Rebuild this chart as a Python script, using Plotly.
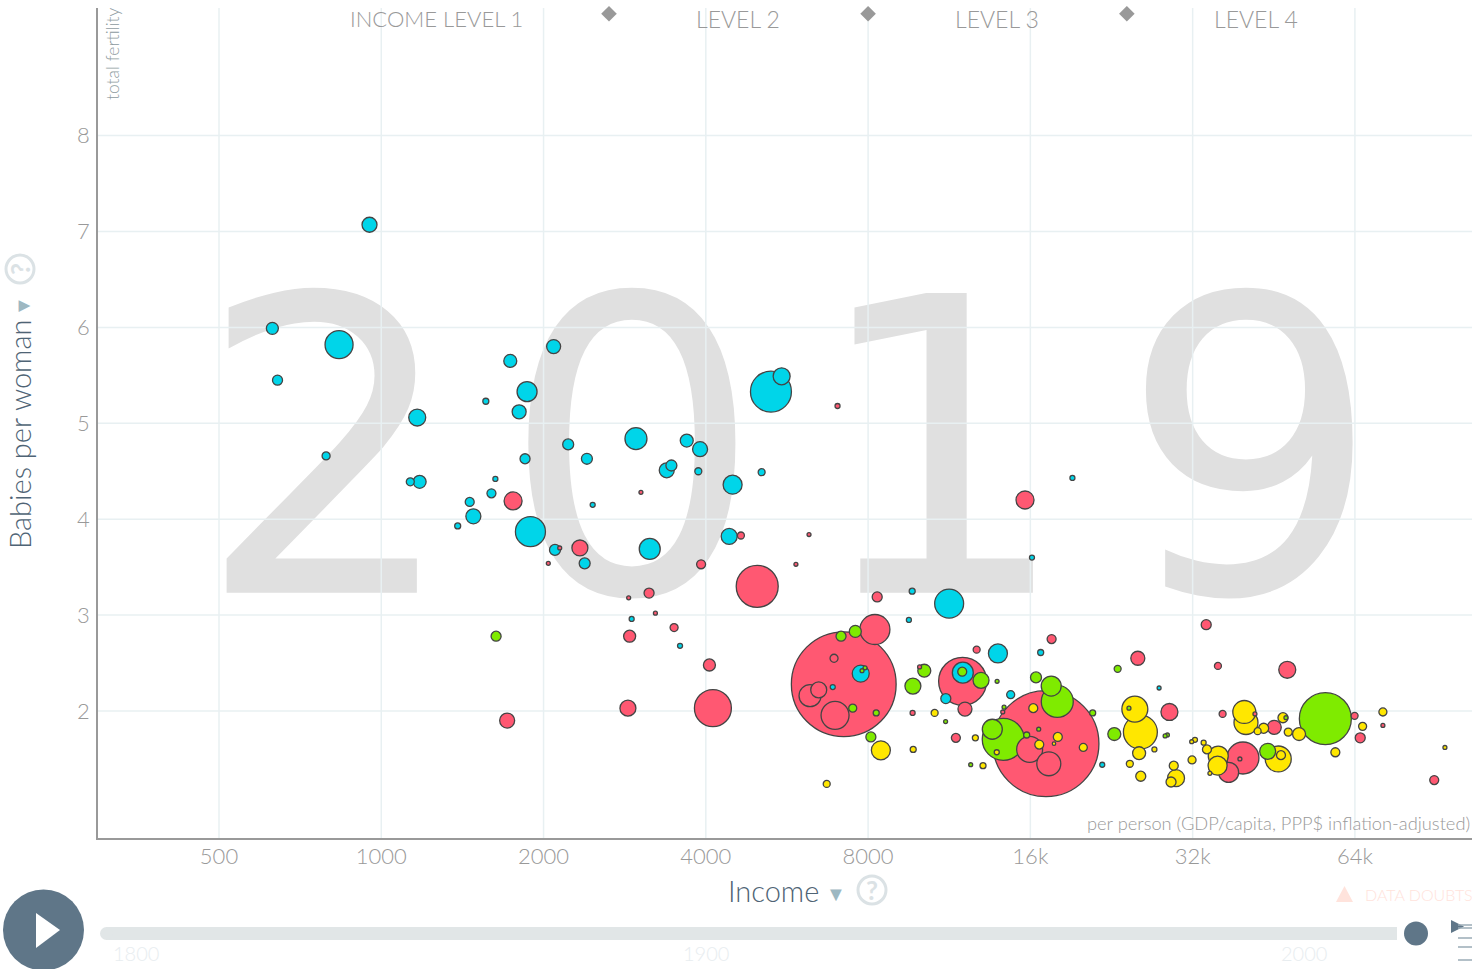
import pandas as pd
import plotly.graph_objects as go

# gapminder snapshot, income / fertility / population (millions)
africa_income = [2088, 1735, 1864, 1563, 1802, 1166, 5283, 5530, 2968, 2222, 2407, 1848, 3687, 3903, 3385, 3453, 3874, 5077, 4485, 2467, 1132, 1178, 1628, 1601, 1459, 1482, 1386, 1891, 2100, 2384, 3148, 4420, 2914, 3583, 951, 628, 835, 642, 790, 19150, 16110, 11310, 9658, 9523, 13930, 16720, 7752, 6879, 11990, 11150, 14710, 21750, 27730]
africa_fertility = [5.80, 5.65, 5.33, 5.23, 5.12, 5.06, 5.33, 5.49, 4.84, 4.78, 4.63, 4.63, 4.82, 4.73, 4.51, 4.56, 4.50, 4.49, 4.36, 4.15, 4.39, 4.39, 4.42, 4.27, 4.18, 4.03, 3.93, 3.87, 3.68, 3.54, 3.69, 3.82, 2.96, 2.68, 7.07, 5.99, 5.82, 5.45, 4.66, 4.43, 3.60, 3.12, 3.25, 2.95, 2.60, 2.61, 2.39, 2.25, 2.40, 2.13, 2.17, 1.44, 2.24]
africa_pop = [25, 21.5, 51, 4.6, 25, 36.8, 214, 36.8, 61.7, 15.4, 15.4, 12.8, 21.5, 28.7, 28.7, 15.4, 6.2, 6.2, 46, 3.2, 8.2, 21.5, 3.2, 10.3, 10.3, 28.7, 4.6, 115, 15.4, 15.4, 56, 32.6, 3.2, 3.2, 28.7, 18.4, 100, 12.8, 8.2, 3.2, 3.2, 107, 4.6, 3.2, 46, 4.6, 36.8, 3.2, 56, 12.8, 8.2, 3.2, 2]

asia_income = [1756, 2336, 2143, 4647, 3920, 4982, 3139, 2877, 6216, 5878, 2041, 3032, 3225, 3493, 2889, 7021, 15640, 1712, 2868, 4123, 4062, 7210, 8236, 8317, 6917, 6243, 6479, 6947, 11980, 12100, 12720, 17520, 17100, 15950, 17310, 11640, 9675, 9969, 14220, 33910, 25320, 35650, 47940, 28980, 36370, 41760, 45350, 63920, 65470, 72130, 39670, 37320, 89810, 39160]
asia_fertility = [4.19, 3.70, 3.70, 3.83, 3.53, 3.30, 3.23, 3.18, 3.84, 3.53, 3.54, 4.28, 3.02, 2.87, 2.78, 5.18, 4.20, 1.90, 2.03, 2.03, 2.48, 2.28, 2.85, 3.19, 2.55, 2.16, 2.22, 1.955, 2.31, 2.02, 2.64, 2.75, 1.66, 1.60, 1.45, 1.72, 1.98, 2.46, 1.99, 2.90, 2.55, 2.47, 2.43, 1.99, 1.97, 1.97, 1.83, 1.95, 1.72, 1.85, 1.51, 1.36, 1.28, 1.50]
asia_pop = [41.3, 32.6, 2, 6.2, 10.3, 225, 12.8, 2, 2, 2, 2, 2, 2, 8.2, 18.4, 3.2, 41.3, 28.7, 32.6, 174.5, 18.4, 1400, 115, 12.8, 8.2, 61.7, 32.6, 100, 294, 25, 6.2, 10.3, 1433, 86, 73.4, 10.3, 3.2, 2, 2, 12.8, 25, 6.2, 36.8, 36.8, 6.2, 2, 25, 6.2, 12.8, 2, 130.6, 51, 10.3, 2]

americas_income = [1633, 7127, 7575, 7896, 7796, 7492, 8282, 8096, 10170, 9688, 11960, 12960, 13880, 16390, 17490, 17950, 14250, 13600, 15750, 20880, 22900, 23230, 11140, 12400, 14300, 16580, 56410, 44090, 28450, 28730, 24380, 47670]
americas_fertility = [2.78, 2.78, 2.83, 2.45, 2.42, 2.03, 1.98, 1.73, 2.42, 2.26, 2.41, 2.32, 2.31, 2.35, 2.26, 2.10, 1.705, 1.81, 1.75, 1.98, 1.76, 2.44, 1.89, 1.44, 2.04, 1.81, 1.92, 1.58, 1.74, 1.75, 2.03, 1.93]
americas_pop = [12.8, 12.8, 18.4, 2, 2, 8.2, 4.6, 12.8, 21.5, 32.6, 10.3, 32.6, 2, 15.4, 51, 130.6, 225, 51, 4.6, 4.6, 21.5, 6.2, 2, 2, 2, 2, 345, 32.6, 2, 2, 2, 2]

europe_income = [8449, 6704, 9700, 10630, 12650, 13070, 13860, 16200, 16620, 17990, 17700, 20060, 25000, 25600, 25460, 27180, 24470, 25640, 29520, 29810, 29180, 31920, 31870, 32320, 33540, 34020, 35700, 35600, 34450, 39900, 40190, 42240, 43340, 47070, 48140, 50420, 46130, 46670, 58870, 66140, 72130, 94010]
europe_fertility = [1.59, 1.24, 1.60, 1.98, 1.72, 1.43, 1.57, 2.03, 1.65, 1.73, 1.66, 1.62, 2.02, 1.78, 1.56, 1.60, 1.45, 1.32, 1.43, 1.30, 1.26, 1.49, 1.68, 1.70, 1.67, 1.60, 1.53, 1.43, 1.35, 1.99, 1.88, 1.79, 1.82, 1.93, 1.78, 1.76, 1.50, 1.54, 1.57, 1.84, 1.99, 1.62]
europe_pop = [46, 6.2, 4.6, 6.2, 4.6, 4.6, 3.2, 10.3, 10.3, 10.3, 1.5, 8.2, 86, 147, 21.5, 3.2, 6.2, 12.8, 10.3, 36.8, 12.8, 8.2, 2, 3.2, 3.2, 10.3, 51, 46, 2, 67.4, 73.4, 6.2, 12.8, 12.8, 8.2, 21.5, 86, 10.3, 10.3, 8.2, 8.2, 2]

x_ticks = [500, 1000, 2000, 4000, 8000, 16000, 32000, 64000]
x_tick_labels = ["500", "1000", "2000", "4000", "8000", "16k", "32k", "64k"]
y_ticks = [2, 3, 4, 5, 6, 7, 8]
level_edges = [2645, 8000, 24160]
year_digits = ["2", "0", "1", "9"]
digit_income = [794, 2918, 10880, 41020]

BLUE = "#00d5e9"
RED = "#ff5872"
GREEN = "#7feb00"
YELLOW = "#ffe700"
SLATE = "#5f7688"
TITLE = "#4f6475"
GRID = "#e8f0f2"
FONT = "Lato"

W, H = 1472, 969
L, T, B = 98, 8, 131
XRANGE = [2.4745, 5.0234]
YRANGE = [0.676, 9.33]


def fx(px):
    return (px - L) / (W - L)


def fy(py):
    return 1 - (py - T) / (H - T - B)


def note(px, py, text, size, color, anchor="center", angle=0, weight=300):
    fig.add_annotation(x=fx(px), y=fy(py), xref="paper", yref="paper", text=text, showarrow=False,
                       xanchor=anchor, yanchor="middle", textangle=angle,
                       font=dict(family=FONT, size=size, color=color, weight=weight))


def circle(cx, cy, r, fill, line=None, width=0):
    fig.add_shape(type="circle", xref="paper", yref="paper", x0=fx(cx - r), x1=fx(cx + r), y0=fy(cy + r), y1=fy(cy - r),
                  fillcolor=fill, line=dict(color=line, width=width))


def polygon(points, fill):
    path = "M " + " L ".join(f"{fx(a):.5f},{fy(b):.5f}" for a, b in points) + " Z"
    fig.add_shape(type="path", xref="paper", yref="paper", path=path, fillcolor=fill, line=dict(width=0))


df = pd.concat([
    pd.DataFrame(dict(income=africa_income, fertility=africa_fertility, pop=africa_pop, color=BLUE)),
    pd.DataFrame(dict(income=asia_income, fertility=asia_fertility, pop=asia_pop, color=RED)),
    pd.DataFrame(dict(income=americas_income, fertility=americas_fertility, pop=americas_pop, color=GREEN)),
    pd.DataFrame(dict(income=europe_income, fertility=europe_fertility, pop=europe_pop, color=YELLOW)),
]).sort_values("pop", ascending=False)

fig = go.Figure()

# big year behind everything
fig.add_trace(go.Scatter(x=digit_income, y=[4.305] * 4, mode="text", text=year_digits, textposition="middle center",
                         textfont=dict(family="DejaVu Sans", size=411, color="#e0e0e0"), hoverinfo="skip"))

# grid as traces so it sits on top of the year
grid_x, grid_y = [], []
for t in x_ticks:
    grid_x += [t, t, None]
    grid_y += [YRANGE[0], YRANGE[1], None]
for t in y_ticks:
    grid_x += [10 ** XRANGE[0], 10 ** XRANGE[1], None]
    grid_y += [t, t, None]
fig.add_trace(go.Scatter(x=grid_x, y=grid_y, mode="lines", line=dict(color=GRID, width=1.5), hoverinfo="skip"))

fig.add_trace(go.Scatter(
    x=df["income"], y=df["fertility"], mode="markers",
    marker=dict(size=df["pop"] ** 0.5 * 2.8, sizemode="diameter", color=df["color"], opacity=1,
                line=dict(color="#444", width=1.3)),
))

# income level dividers
fig.add_trace(go.Scatter(x=level_edges, y=[9.27] * 3, mode="markers", cliponaxis=False,
                         marker=dict(symbol="diamond", size=12, color="#999"), hoverinfo="skip"))

fig.update_xaxes(type="log", range=XRANGE, tickvals=x_ticks, ticktext=x_tick_labels, showgrid=False, zeroline=False,
                 showline=True, linecolor="#999", linewidth=1.5, ticks="", ticklabelstandoff=-2,
                 tickfont=dict(family=FONT, size=22, color="#999", weight=300))
fig.update_yaxes(range=YRANGE, tickvals=y_ticks, showgrid=False, zeroline=False,
                 showline=True, linecolor="#999", linewidth=1.5, ticks="", ticklabelstandoff=2,
                 tickfont=dict(family=FONT, size=22, color="#999", weight=300))

fig.update_layout(width=W, height=H, margin=dict(l=L, r=0, t=T, b=B, autoexpand=False), showlegend=False,
                  paper_bgcolor="white", plot_bgcolor="rgba(0,0,0,0)")

# labels
note(436, 19, "INCOME LEVEL 1", 22, "#999")
note(738, 19, "LEVEL 2", 23, "#999")
note(997, 19, "LEVEL 3", 23, "#999")
note(1256, 19, "LEVEL 4", 23, "#999")
note(112, 54, "total fertility", 17.5, "#8d9aa0", angle=-90)
note(1472, 823, "per person (GDP/capita, PPP$ inflation-adjusted)", 18.3, "#999", anchor="right")
note(773, 890, "Income", 29, TITLE)
note(836, 893, "▼", 20, "#9db8c2", weight=400)
note(19, 435, "Babies per woman", 29, TITLE, angle=-90)
note(22, 306, "▼", 20, "#9db8c2", angle=-90, weight=400)

# help icons
circle(872, 890, 14, "white", "#dbe2e5", 3)
note(872, 890, "?", 26, "#dbe2e5", weight=700)
circle(20, 269, 14, "white", "#dbe2e5", 3)
note(20, 269, "?", 26, "#dbe2e5", angle=-90, weight=700)

# time slider
fig.add_shape(type="rect", xref="paper", yref="paper", x0=fx(106), x1=fx(1397), y0=fy(940), y1=fy(927), fillcolor="#e1e6e7", line=dict(width=0))
circle(106.5, 933.5, 6.5, "#e1e6e7")
circle(1416, 933.5, 12, SLATE)
circle(43.5, 930, 40.5, SLATE)
polygon([(36, 913), (36, 948), (60, 930)], "white")
note(136, 953, "1800", 20, "#e8edf0")
note(706, 953, "1900", 20, "#e8edf0")
note(1304, 953, "2000", 20, "#e8edf0")

# data doubts
polygon([(1344.5, 886), (1336, 902), (1353, 902)], "#ffe3dc")
note(1363, 894, "DATA DOUBTS", 16, "#ffe3dc", anchor="left")

# side menu
polygon([(1451, 920), (1451, 933), (1464, 926.5)], SLATE)
for yy in [925, 928, 938, 947, 960]:
    fig.add_shape(type="line", xref="paper", yref="paper", x0=fx(1458), x1=fx(1472), y0=fy(yy), y1=fy(yy), line=dict(color="#9aabb6", width=1.5))

fig.write_html("out.html", config={"displayModeBar": False}, post_script="document.body.style.margin='0';")
